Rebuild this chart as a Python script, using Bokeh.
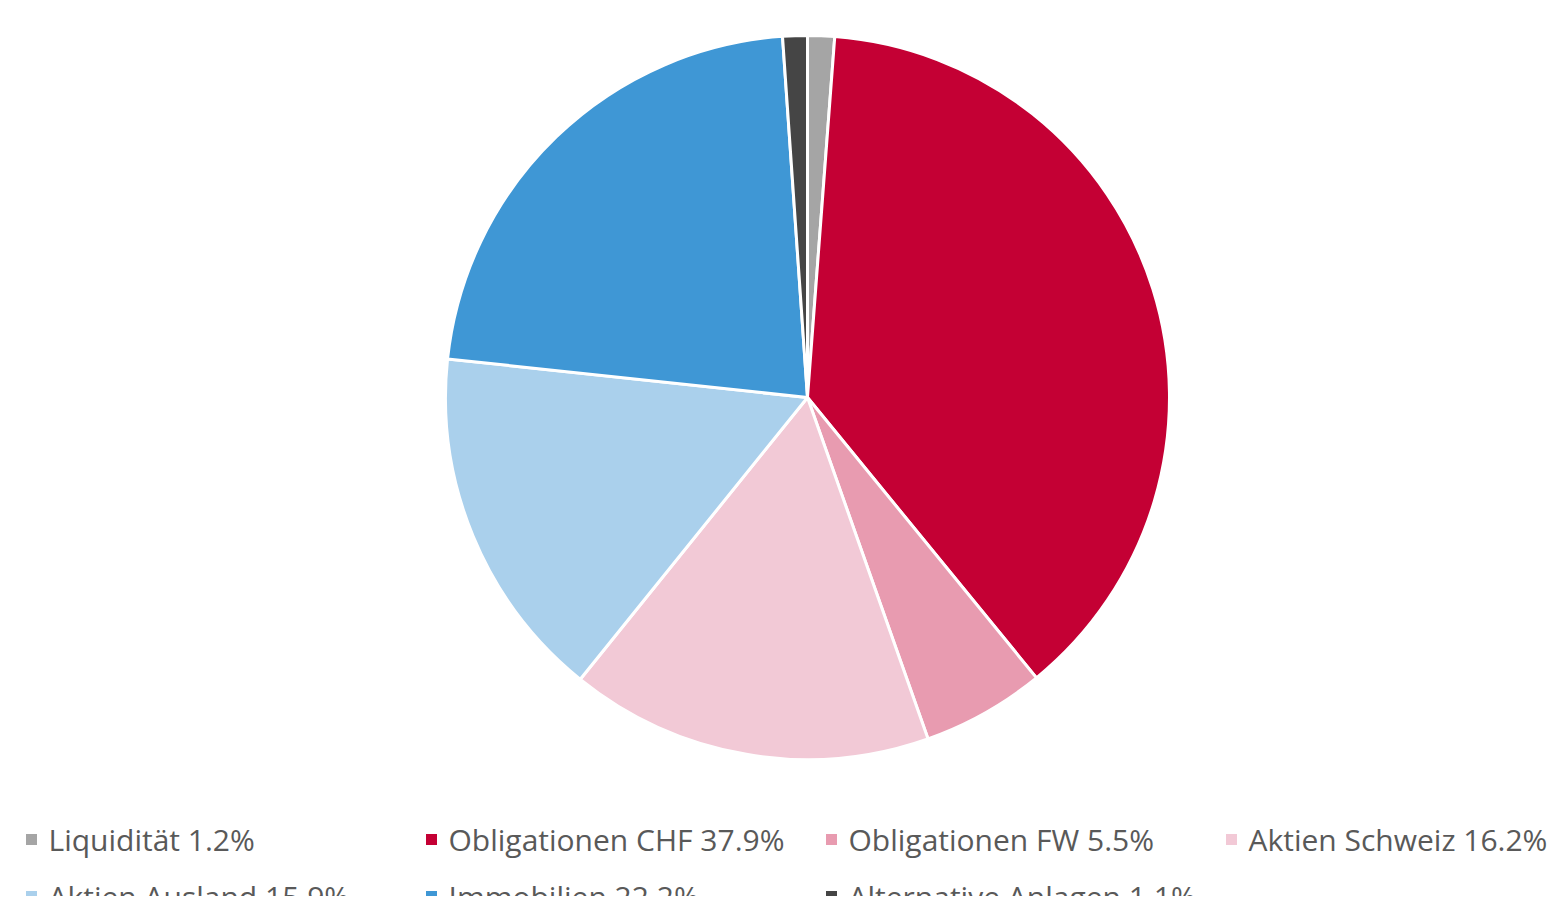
import math
from bokeh.plotting import figure
from bokeh.models import Range1d, ColumnDataSource
from bokeh.core.properties import value
from bokeh.embed import file_html
from bokeh.resources import INLINE

categories = ["Liquidität", "Obligationen CHF", "Obligationen FW", "Aktien Schweiz",
              "Aktien Ausland", "Immobilien", "Alternative Anlagen"]
shares = [1.2, 37.9, 5.5, 16.2, 15.9, 22.2, 1.1]
colors = ["#A5A5A5", "#C40034", "#E89BB0", "#F2C9D6", "#AAD0EC", "#3F97D5", "#454545"]

W, H = 1548, 896
p = figure(width=W, height=H, output_backend="svg", toolbar_location=None,
           x_range=Range1d(0, W), y_range=Range1d(0, H), min_border=0)
p.axis.visible = False
p.grid.visible = False
p.outline_line_color = None
p.background_fill_color = "white"
p.border_fill_color = "white"

total = sum(shares)
starts, ends = [], []
cum = 0.0
for s in shares:
    starts.append(math.pi / 2 - cum / total * 2 * math.pi)
    cum += s
    ends.append(math.pi / 2 - cum / total * 2 * math.pi)

cx, cy, r = 807, H - 397, 362
src = ColumnDataSource(dict(start=starts, end=ends, color=colors))
p.wedge(x=cx, y=cy, radius=r, start_angle="start", end_angle="end", direction="clock",
        fill_color="color", line_color="white", line_width=3, source=src)

# legend
labels = [f"{c} {s:.1f}%" for c, s in zip(categories, shares)]
col_x = [31, 431, 831, 1231]
row_y = [H - 839, H - 896]
lx = [col_x[i % 4] for i in range(len(labels))]
ly = [row_y[i // 4] for i in range(len(labels))]
lsrc = ColumnDataSource(dict(x=lx, y=ly, tx=[x + 17 for x in lx], label=labels, color=colors))
p.rect(x="x", y="y", width=11, height=11, fill_color="color", line_color=None, source=lsrc)
p.text(x="tx", y="y", text="label", text_font=value("Open Sans"), text_font_size="30px",
       text_color="#595959", text_baseline="middle", text_align="left", source=lsrc)

open("out.html", "w").write(file_html(p, INLINE))
